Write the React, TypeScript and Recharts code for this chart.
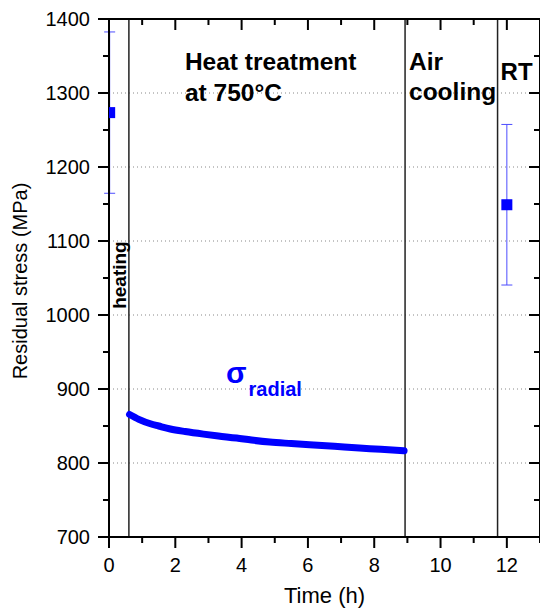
import React from "react";
import {
  ComposedChart,
  Line,
  Scatter,
  ErrorBar,
  XAxis,
  YAxis,
  CartesianGrid,
  ReferenceLine,
  ReferenceDot,
} from "recharts";

// radial residual stress during the 750°C hold (h, MPa)
const timeH = [0.62, 0.9, 1.25, 1.5, 1.85, 2.3, 2.85, 3.3, 3.85, 4.3, 4.85, 5.5, 6.05, 6.8, 7.55, 8.2, 8.9];
const sigmaRadial = [865.5, 859, 853, 850, 846, 842.5, 839, 836.5, 833.7, 831, 828.3, 826.3, 824.7, 822.5, 820.2, 818.5, 816.5];

// single measurements with error bars
const measureTime = [0.02, 12];
const measureStress = [1273.5, 1149];
const measureErr = [109, 108.5];

// phase boundaries: end of heating, end of hold, end of air cooling
const phaseBounds = [0.6, 8.93, 11.72];

const xTicks = [0, 1, 2, 3, 4, 5, 6, 7, 8, 9, 10, 11, 12, 13];
const yTicks = [700, 750, 800, 850, 900, 950, 1000, 1050, 1100, 1150, 1200, 1250, 1300, 1350, 1400];
const yGrid = [800, 900, 1000, 1100, 1200, 1300];

const curve = timeH.map((t, i) => ({ t, s: sigmaRadial[i] }));
const points = measureTime.map((t, i) => ({ t, s: measureStress[i], err: measureErr[i] }));

const FONT = "'Liberation Sans', Arial, sans-serif";
const BLUE = "#0000ff";
const INK = "#000";

// layout: 608 tall, 9 top margin + 10 top axis, 40 bottom axis + 31 bottom margin
const CHART_H = 608;
const PLOT_H = CHART_H - 9 - 10 - 40 - 31;

// major ticks 11px, minor 6px; bottom/left outward, top/right inward
// the top frame ticks are drawn together with the bottom ones
const BottomTick = ({ x, y, payload }: any) => {
  const len = payload.value % 2 === 0 ? 11 : 6;
  const top = y - PLOT_H;
  return (
    <g>
      <path d={`M${x},${y} V${y + len}`} stroke={INK} strokeWidth={2} />
      <path d={`M${x},${top} V${top + len}`} stroke={INK} strokeWidth={2} />
      {len === 11 && payload.value < 13 && (
        <text x={x} y={y + 35} textAnchor="middle" fontSize={20} fontFamily={FONT} fill={INK}>
          {payload.value}
        </text>
      )}
    </g>
  );
};

const LeftTick = ({ x, y, payload }: any) => {
  const major = payload.value % 100 === 0;
  const len = major ? 11 : 6;
  return (
    <g>
      <path d={`M${x - len},${y} H${x}`} stroke={INK} strokeWidth={2} />
      {major && (
        <text x={x - 19} y={y + 7} textAnchor="end" fontSize={20} fontFamily={FONT} fill={INK}>
          {payload.value}
        </text>
      )}
    </g>
  );
};

const RightTick = ({ x, y, payload }: any) => {
  const len = payload.value % 100 === 0 ? 11 : 6;
  return <path d={`M${x - len},${y} H${x}`} stroke={INK} strokeWidth={2} />;
};

const boldNote = { fontSize: 24.5, fontWeight: 700, fontFamily: FONT, fill: INK };

export default function App() {
  return (
    <div style={{ position: "absolute", left: 0, top: 0, fontFamily: FONT }}>
      <ComposedChart width={540} height={CHART_H} margin={{ top: 9, right: -2, bottom: 31, left: 49 }}>
        <CartesianGrid
          horizontal
          vertical={false}
          horizontalValues={yGrid}
          stroke="#888"
          strokeDasharray="1 3"
        />
        <XAxis
          dataKey="t"
          type="number"
          domain={[0, 13]}
          ticks={xTicks}
          interval={0}
          allowDataOverflow
          height={40}
          tickLine={false}
          tickSize={0}
          tickMargin={0}
          tick={BottomTick}
          axisLine={{ stroke: INK, strokeWidth: 2 }}
          label={{
            content: ({ viewBox }: any) =>
              viewBox ? (
                <text
                  x={viewBox.x + viewBox.width / 2}
                  y={viewBox.y + 66}
                  textAnchor="middle"
                  fontSize={22}
                  fontFamily={FONT}
                  fill={INK}
                >
                  Time (h)
                </text>
              ) : null,
          }}
        />
        <XAxis
          xAxisId="top"
          orientation="top"
          dataKey="t"
          type="number"
          domain={[0, 13]}
          ticks={xTicks}
          interval={0}
          allowDataOverflow
          height={10}
          tickLine={false}
          tick={false}
          axisLine={{ stroke: INK, strokeWidth: 2 }}
        />
        <YAxis
          type="number"
          domain={[700, 1400]}
          ticks={yTicks}
          interval={0}
          allowDataOverflow
          width={60}
          tickLine={false}
          tickSize={0}
          tickMargin={0}
          tick={LeftTick}
          axisLine={{ stroke: INK, strokeWidth: 2 }}
          label={{
            content: ({ viewBox }: any) =>
              viewBox ? (
                <text
                  x={viewBox.x - 22}
                  y={viewBox.y + viewBox.height / 2 + 3}
                  transform={`rotate(-90 ${viewBox.x - 22} ${viewBox.y + viewBox.height / 2 + 3})`}
                  textAnchor="middle"
                  fontSize={20}
                  fontFamily={FONT}
                  fill={INK}
                >
                  Residual stress (MPa)
                </text>
              ) : null,
          }}
        />
        <YAxis
          yAxisId="right"
          orientation="right"
          type="number"
          domain={[700, 1400]}
          ticks={yTicks}
          interval={0}
          allowDataOverflow
          width={2}
          tickLine={false}
          tickSize={0}
          tickMargin={0}
          tick={RightTick}
          axisLine={{ stroke: INK, strokeWidth: 2 }}
        />

        {phaseBounds.map((b) => (
          <ReferenceLine key={b} x={b} stroke="#222" strokeWidth={1.5} />
        ))}

        <Line
          data={curve}
          dataKey="s"
          type="monotone"
          stroke={BLUE}
          strokeWidth={7}
          strokeLinecap="round"
          dot={false}
          activeDot={false}
          isAnimationActive={false}
        />
        {/* measured points on the top/right axes (same domains) so the frame axes have data */}
        <Scatter
          data={points}
          dataKey="s"
          xAxisId="top"
          yAxisId="right"
          isAnimationActive={false}
          shape={(p: any) => <rect x={p.cx - 5.5} y={p.cy - 5.5} width={11} height={11} fill={BLUE} />}
        >
          <ErrorBar dataKey="err" direction="y" width={5.5} stroke="#4d4dff" strokeWidth={1} isAnimationActive={false} />
        </Scatter>

        <ReferenceDot
          x={0.5}
          y={1054}
          r={0}
          shape={(p: any) => (
            <text
              x={p.cx}
              y={p.cy}
              transform={`rotate(-90 ${p.cx} ${p.cy})`}
              textAnchor="middle"
              fontSize={19}
              fontWeight={700}
              fontFamily={FONT}
              fill={INK}
            >
              heating
            </text>
          )}
        />
        <ReferenceDot
          x={2.29}
          y={1331}
          r={0}
          shape={(p: any) => (
            <text x={p.cx} y={p.cy} {...boldNote}>
              <tspan x={p.cx}>Heat treatment</tspan>
              <tspan x={p.cx} dy={31}>at 750°C</tspan>
            </text>
          )}
        />
        <ReferenceDot
          x={9.05}
          y={1331}
          r={0}
          shape={(p: any) => (
            <text x={p.cx} y={p.cy} {...boldNote}>
              <tspan x={p.cx}>Air</tspan>
              <tspan x={p.cx} dy={30}>cooling</tspan>
            </text>
          )}
        />
        <ReferenceDot
          x={11.81}
          y={1317.6}
          r={0}
          shape={(p: any) => (
            <text x={p.cx} y={p.cy} {...boldNote} fontSize={24}>
              RT
            </text>
          )}
        />
        <ReferenceDot
          x={3.53}
          y={908.4}
          r={0}
          shape={(p: any) => (
            <text x={p.cx} y={p.cy} fontWeight={700} fontFamily={FONT} fill={BLUE}>
              <tspan fontSize={30}>σ</tspan>
              <tspan fontSize={20} dx={2} dy={13}>radial</tspan>
            </text>
          )}
        />
      </ComposedChart>
    </div>
  );
}
